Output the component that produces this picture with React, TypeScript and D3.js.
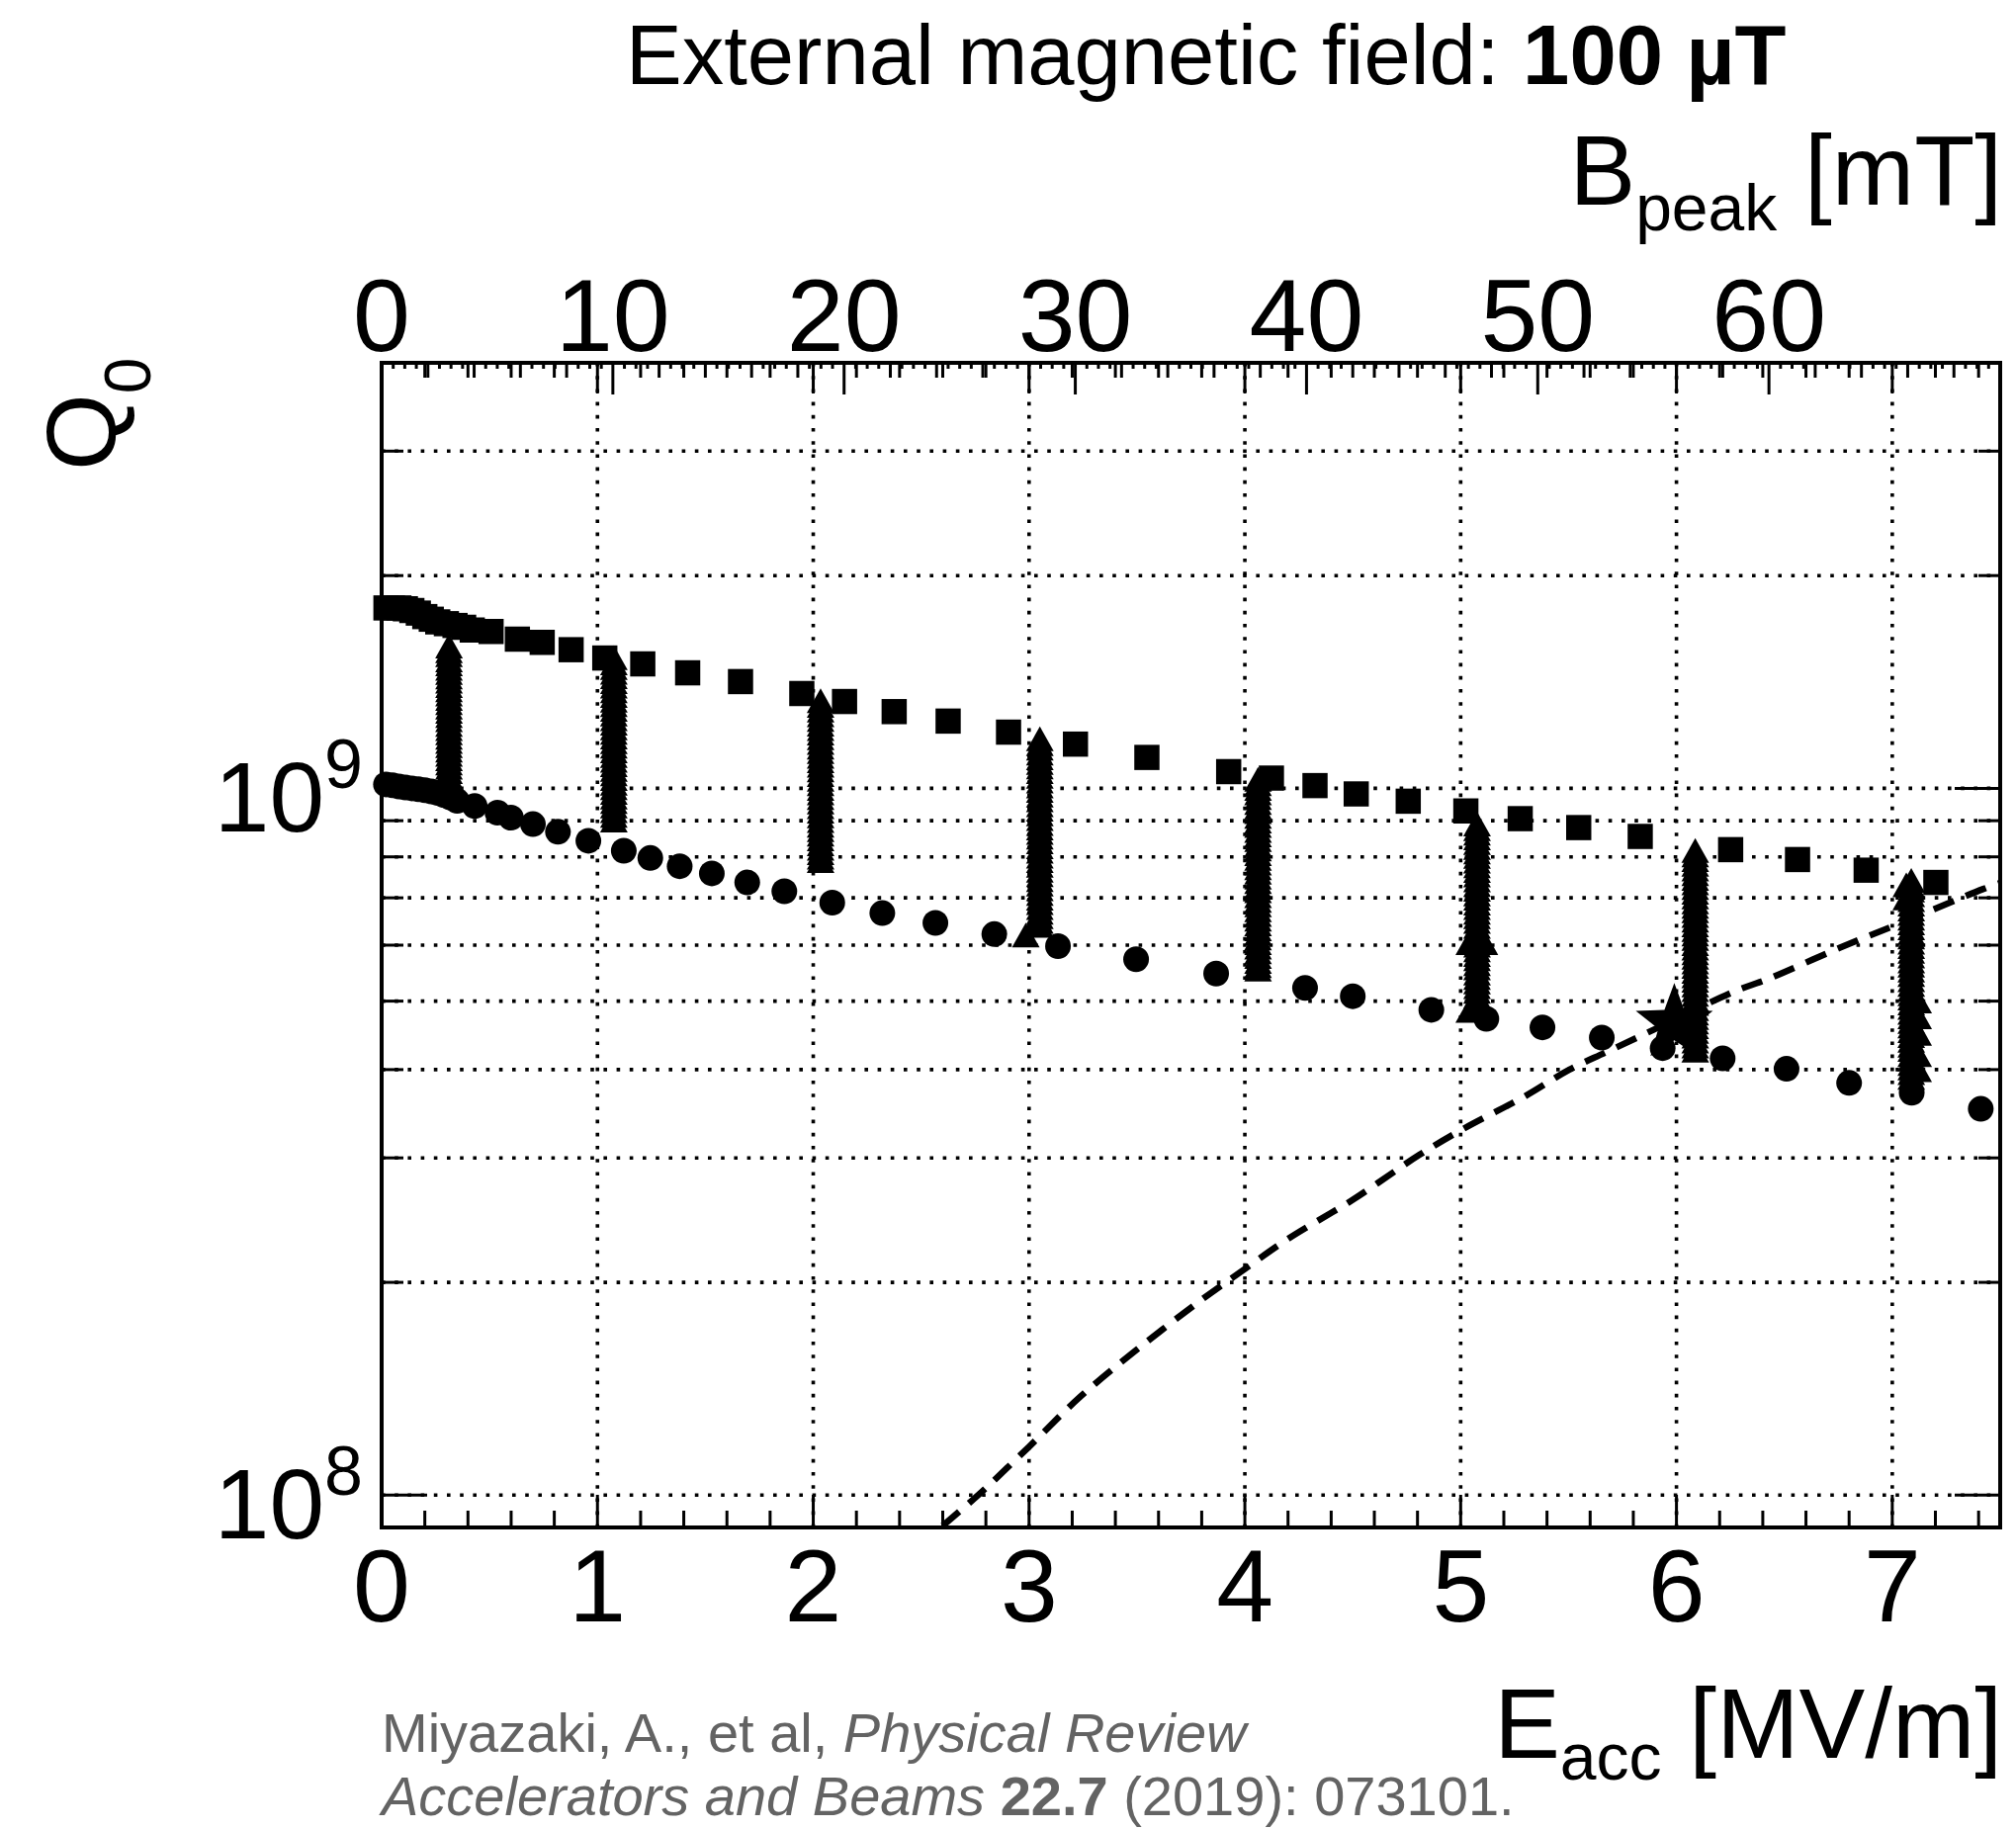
import React from "react";
import * as d3 from "d3";

// Q0 vs E_acc for a cavity in an external field of 100 µT.
// E_acc in MV/m, Q0 values stored in units of 1e9.

// Upper branch (full squares)
const squareE = [0.02, 0.05, 0.08, 0.11, 0.14, 0.17, 0.2, 0.23, 0.26, 0.3, 0.34, 0.38, 0.42, 0.507, 0.629, 0.744, 0.878, 1.034, 1.21, 1.418, 1.663, 1.947, 2.145, 2.375, 2.625, 2.905, 3.215, 3.546, 3.925, 4.123, 4.325, 4.516, 4.757, 5.024, 5.276, 5.547, 5.832, 6.251, 6.561, 6.879, 7.202];
const squareQ = [1.8, 1.8, 1.8, 1.795, 1.785, 1.77, 1.75, 1.735, 1.72, 1.71, 1.7, 1.69, 1.675, 1.667, 1.626, 1.609, 1.571, 1.529, 1.5, 1.457, 1.416, 1.362, 1.327, 1.284, 1.245, 1.201, 1.155, 1.106, 1.056, 1.034, 1.009, 0.982, 0.959, 0.929, 0.906, 0.88, 0.855, 0.819, 0.793, 0.766, 0.736];

// Lower branch (full circles)
const circleE = [0.02, 0.05, 0.08, 0.11, 0.14, 0.17, 0.2, 0.23, 0.26, 0.29, 0.32, 0.35, 0.431, 0.537, 0.599, 0.701, 0.817, 0.958, 1.122, 1.245, 1.381, 1.53, 1.694, 1.866, 2.088, 2.32, 2.566, 2.839, 3.134, 3.496, 3.867, 4.279, 4.5, 4.864, 5.119, 5.379, 5.654, 5.936, 6.214, 6.51, 6.8, 7.09, 7.41];
const circleQ = [1.013, 1.01, 1.006, 1.003, 1.0, 0.997, 0.994, 0.99, 0.985, 0.978, 0.97, 0.96, 0.944, 0.924, 0.909, 0.89, 0.868, 0.843, 0.816, 0.797, 0.776, 0.758, 0.736, 0.715, 0.689, 0.666, 0.645, 0.622, 0.598, 0.573, 0.547, 0.522, 0.508, 0.486, 0.472, 0.459, 0.444, 0.429, 0.415, 0.401, 0.383, 0.371, 0.352];

// Transition measurements (full triangles), one column per field step
const triangleColumnE = [0.312, 1.076, 2.034, 3.05, 4.061, 5.076, 6.087, 7.088];
const triangleColumnQ = [
  [1.59, 1.565, 1.545, 1.52, 1.5, 1.478, 1.458, 1.437, 1.418, 1.398, 1.378, 1.36, 1.34, 1.322, 1.303, 1.285, 1.268, 1.25, 1.232, 1.215, 1.198, 1.181, 1.165, 1.149, 1.133, 1.117, 1.101, 1.086, 1.071, 1.056, 1.041, 1.026, 1.012],
  [1.53, 1.505, 1.482, 1.46, 1.438, 1.416, 1.395, 1.374, 1.353, 1.333, 1.313, 1.293, 1.274, 1.255, 1.236, 1.218, 1.2, 1.182, 1.164, 1.147, 1.13, 1.113, 1.096, 1.08, 1.064, 1.048, 1.032, 1.017, 1.002, 0.987, 0.972, 0.958, 0.944, 0.93, 0.916, 0.902],
  [1.33, 1.31, 1.29, 1.271, 1.252, 1.233, 1.215, 1.197, 1.179, 1.161, 1.144, 1.127, 1.11, 1.094, 1.078, 1.062, 1.046, 1.03, 1.015, 1.0, 0.985, 0.97, 0.956, 0.942, 0.928, 0.914, 0.9, 0.887, 0.874, 0.861, 0.848, 0.835, 0.823, 0.811, 0.799, 0.79],
  [1.175, 1.157, 1.14, 1.122, 1.105, 1.088, 1.072, 1.056, 1.04, 1.024, 1.008, 0.993, 0.978, 0.963, 0.948, 0.934, 0.92, 0.906, 0.892, 0.879, 0.866, 0.853, 0.84, 0.827, 0.815, 0.802, 0.79, 0.778, 0.766, 0.755, 0.743, 0.732, 0.721, 0.71, 0.699, 0.689, 0.678, 0.668, 0.658, 0.648, 0.64],
  [1.03, 1.015, 1.0, 0.985, 0.97, 0.955, 0.941, 0.927, 0.913, 0.899, 0.886, 0.872, 0.859, 0.846, 0.833, 0.821, 0.808, 0.796, 0.784, 0.772, 0.761, 0.749, 0.738, 0.727, 0.716, 0.705, 0.694, 0.684, 0.673, 0.663, 0.653, 0.643, 0.633, 0.624, 0.614, 0.605, 0.596, 0.587, 0.578, 0.569, 0.561, 0.555],
  [0.89, 0.877, 0.864, 0.851, 0.838, 0.825, 0.813, 0.801, 0.789, 0.777, 0.765, 0.754, 0.742, 0.731, 0.72, 0.709, 0.699, 0.688, 0.678, 0.668, 0.658, 0.648, 0.638, 0.628, 0.619, 0.61, 0.6, 0.591, 0.582, 0.574, 0.565, 0.557, 0.548, 0.54, 0.532, 0.524, 0.516, 0.508, 0.5, 0.493, 0.486],
  [0.817, 0.805, 0.793, 0.781, 0.769, 0.757, 0.746, 0.735, 0.724, 0.713, 0.702, 0.691, 0.681, 0.671, 0.661, 0.651, 0.641, 0.631, 0.622, 0.613, 0.603, 0.594, 0.585, 0.577, 0.568, 0.56, 0.551, 0.543, 0.535, 0.527, 0.519, 0.511, 0.503, 0.496, 0.488, 0.481, 0.474, 0.467, 0.46, 0.453, 0.446, 0.439, 0.432, 0.426],
  [0.741, 0.729, 0.718, 0.707, 0.696, 0.686, 0.675, 0.665, 0.655, 0.645, 0.635, 0.625, 0.616, 0.606, 0.597, 0.588, 0.579, 0.57, 0.562, 0.553, 0.545, 0.536, 0.528, 0.52, 0.512, 0.505, 0.497, 0.49, 0.482, 0.475, 0.468, 0.461, 0.454, 0.447, 0.44, 0.433, 0.427, 0.42, 0.414, 0.408, 0.402, 0.396, 0.39],
];
// Off-column triangles
const triangleExtraE = [2.985, 5.04, 5.11, 5.04, 7.065, 7.065, 7.12, 7.12, 7.12, 7.12, 7.12];
const triangleExtraQ = [0.62, 0.605, 0.605, 0.485, 0.73, 0.7, 0.5, 0.475, 0.45, 0.42, 0.4];

// Single star point
const starE = [5.99];
const starQ = [0.465];

// Dashed reference curve
const curveE = [2.6, 2.784, 2.999, 3.234, 3.51, 3.807, 4.001, 4.196, 4.502, 4.809, 5.014, 5.3, 5.504, 5.679, 5.891, 6.262, 6.428, 6.758, 7.057, 7.419, 7.5];
const curveQ = [0.0905, 0.1013, 0.117, 0.1375, 0.1616, 0.1897, 0.209, 0.23, 0.262, 0.303, 0.33, 0.367, 0.4, 0.424, 0.455, 0.515, 0.538, 0.595, 0.648, 0.72, 0.735];

// Axis ticks and labels
const eaccTicks = [0, 1, 2, 3, 4, 5, 6, 7];
const bpeakTicks = [0, 10, 20, 30, 40, 50, 60];
const q0GridValues = [1e8, 2e8, 3e8, 4e8, 5e8, 6e8, 7e8, 8e8, 9e8, 1e9, 2e9, 3e9];
const q0Decades = [8, 9];

const FONT = "'Liberation Sans', Arial, Helvetica, sans-serif";

const L = 386, R = 2023, T = 367, B = 1545;

export default function App() {
  const x = d3.scaleLinear().domain([0, 7.5]).range([L, R]);
  const xB = d3.scaleLinear().domain([0, 70]).range([L, R]);
  const y = d3.scaleLog().domain([9e7, 4e9]).range([B, T]);

  const sq = 25.5;
  const squarePath = `M${-sq / 2},${-sq / 2}h${sq}v${sq}h${-sq}Z`;
  const triW = 28, triH = 25;
  const trianglePath = `M0,${-triH / 2}L${triW / 2},${triH / 2}L${-triW / 2},${triH / 2}Z`;
  const starOuter = 41, starInner = 17;
  const starPts = d3.range(10).map((i) => {
    const a = -Math.PI / 2 + (i * Math.PI) / 5;
    const r = i % 2 === 0 ? starOuter : starInner;
    return [r * Math.cos(a), r * Math.sin(a)];
  });
  const starPath = "M" + starPts.map((p) => p.join(",")).join("L") + "Z";

  const triangles: { e: number; q: number }[] = [];
  triangleColumnE.forEach((e, i) => triangleColumnQ[i].forEach((q) => triangles.push({ e, q })));
  triangleExtraE.forEach((e, i) => triangles.push({ e, q: triangleExtraQ[i] }));

  const curvePts = curveE.map((e, i) => ({ e, q: curveQ[i] * 1e9 }));
  const curveLine = d3
    .line<{ e: number; q: number }>()
    .x((d) => x(d.e))
    .y((d) => y(d.q))
    .curve(d3.curveCatmullRom);

  const eaccMinor = d3.range(0, 7.5001, 0.2).filter((v) => Math.abs(v - Math.round(v)) > 1e-6);
  const bSecondary = d3.range(0, 70.001, 2).filter((v) => v % 10 !== 0);
  const bTertiary = d3.range(0, 70.001, 0.5).filter((v) => Math.abs(v / 2 - Math.round(v / 2)) > 1e-6);

  const dotted = { stroke: "#000", strokeWidth: 3.6, strokeDasharray: "3.6 9.6" };

  return (
    <svg
      width={2039}
      height={1850}
      viewBox="0 0 2039 1850"
      style={{ position: "absolute", left: 0, top: 0, background: "#fff" }}
      fontFamily={FONT}
    >
      <rect x={0} y={0} width={2039} height={1850} fill="#fff" />
      <defs>
        <clipPath id="plotClip">
          <rect x={L} y={T} width={R - L} height={B - T} />
        </clipPath>
      </defs>

      {/* Title */}
      <text x={633} y={85} fontSize={85} fill="#000">
        External magnetic field: <tspan fontWeight="bold">100 µT</tspan>
      </text>

      {/* Grid */}
      <g>
        {eaccTicks.filter((v) => v > 0).map((v) => (
          <line key={`gx${v}`} x1={x(v)} x2={x(v)} y1={T} y2={B} {...dotted} />
        ))}
        {q0GridValues.map((v) => (
          <line key={`gy${v}`} x1={L} x2={R} y1={y(v)} y2={y(v)} {...dotted} />
        ))}
      </g>

      {/* Dashed curve */}
      <path
        d={curveLine(curvePts) || ""}
        fill="none"
        stroke="#000"
        strokeWidth={6.5}
        strokeDasharray="22 13"
        clipPath="url(#plotClip)"
      />

      {/* Squares */}
      <g fill="#000">
        {squareE.map((e, i) => (
          <path key={`s${i}`} d={squarePath} transform={`translate(${x(e)},${y(squareQ[i] * 1e9)})`} />
        ))}
      </g>

      {/* Circles */}
      <g fill="#000">
        {circleE.map((e, i) => (
          <circle key={`c${i}`} cx={x(e)} cy={y(circleQ[i] * 1e9)} r={13} />
        ))}
      </g>

      {/* Triangles */}
      <g fill="#000">
        {triangles.map((d, i) => (
          <path key={`t${i}`} d={trianglePath} transform={`translate(${x(d.e)},${y(d.q * 1e9)})`} />
        ))}
      </g>

      {/* Star */}
      <g fill="#000">
        {starE.map((e, i) => (
          <path key={`st${i}`} d={starPath} transform={`translate(${x(e)},${y(starQ[i] * 1e9)})`} />
        ))}
      </g>

      {/* Frame */}
      <rect x={L} y={T} width={R - L} height={B - T} fill="none" stroke="#000" strokeWidth={4} />

      {/* Axis ticks */}
      <g stroke="#000" strokeWidth={3}>
        {eaccTicks.map((v) => (
          <line key={`bt${v}`} x1={x(v)} x2={x(v)} y1={B} y2={B - 33} />
        ))}
        {eaccMinor.map((v) => (
          <line key={`btm${v}`} x1={x(v)} x2={x(v)} y1={B} y2={B - 17} />
        ))}
        {/* mirrored E_acc ticks at top */}
        {eaccTicks.map((v) => (
          <line key={`tt${v}`} x1={x(v)} x2={x(v)} y1={T} y2={T + 31} />
        ))}
        {eaccMinor.map((v) => (
          <line key={`ttm${v}`} x1={x(v)} x2={x(v)} y1={T} y2={T + 15} />
        ))}
        {/* B_peak ticks at top */}
        {bpeakTicks.map((v) => (
          <line key={`bp${v}`} x1={xB(v)} x2={xB(v)} y1={T} y2={T + 32} />
        ))}
        {bSecondary.map((v) => (
          <line key={`bps${v}`} x1={xB(v)} x2={xB(v)} y1={T} y2={T + 15} />
        ))}
        {bTertiary.map((v) => (
          <line key={`bpt${v}`} x1={xB(v)} x2={xB(v)} y1={T} y2={T + 6} />
        ))}
        {/* Q0 ticks on both sides */}
        {q0GridValues.map((v) => {
          const major = q0Decades.some((d) => Math.abs(Math.log10(v) - d) < 1e-9);
          const len = major ? 46 : 22;
          return (
            <g key={`qt${v}`}>
              <line x1={L} x2={L + len} y1={y(v)} y2={y(v)} />
              <line x1={R} x2={R - len} y1={y(v)} y2={y(v)} />
            </g>
          );
        })}
      </g>

      {/* Bottom tick labels */}
      <g fontSize={104} textAnchor="middle" fill="#000">
        {eaccTicks.map((v) => (
          <text key={`bl${v}`} x={x(v)} y={1640}>
            {v}
          </text>
        ))}
      </g>

      {/* Top tick labels */}
      <g fontSize={104} textAnchor="middle" fill="#000">
        {bpeakTicks.map((v) => (
          <text key={`tl${v}`} x={xB(v)} y={355}>
            {v}
          </text>
        ))}
      </g>

      {/* Q0 decade labels */}
      <g fill="#000" textAnchor="end">
        {q0Decades.map((d) => (
          <text key={`ql${d}`} x={367} y={y(Math.pow(10, d)) + 44}>
            <tspan fontSize={100}>10</tspan>
            <tspan fontSize={70} dy={-44}>
              {d}
            </tspan>
          </text>
        ))}
      </g>

      {/* Axis titles */}
      <text x={2025} y={207} textAnchor="end" fill="#000" fontSize={100}>
        B<tspan fontSize={66} dy={26}>peak</tspan>
        <tspan dy={-26}> [mT]</tspan>
      </text>
      <text x={2025} y={1778} textAnchor="end" fill="#000" fontSize={100}>
        E<tspan fontSize={66} dy={22}>acc</tspan>
        <tspan dy={-22}> [MV/m]</tspan>
      </text>
      <text transform="translate(117,476) rotate(-90)" fill="#000" fontSize={100}>
        Q<tspan fontSize={66} dy={35}>0</tspan>
      </text>

      {/* Citation */}
      <g fill="#636363" fontSize={56}>
        <text x={386} y={1772}>
          Miyazaki, A., et al, <tspan fontStyle="italic">Physical Review</tspan>
        </text>
        <text x={386} y={1836}>
          <tspan fontStyle="italic">Accelerators and Beams </tspan>
          <tspan fontWeight="bold">22.7</tspan> (2019): 073101.
        </text>
      </g>
    </svg>
  );
}
